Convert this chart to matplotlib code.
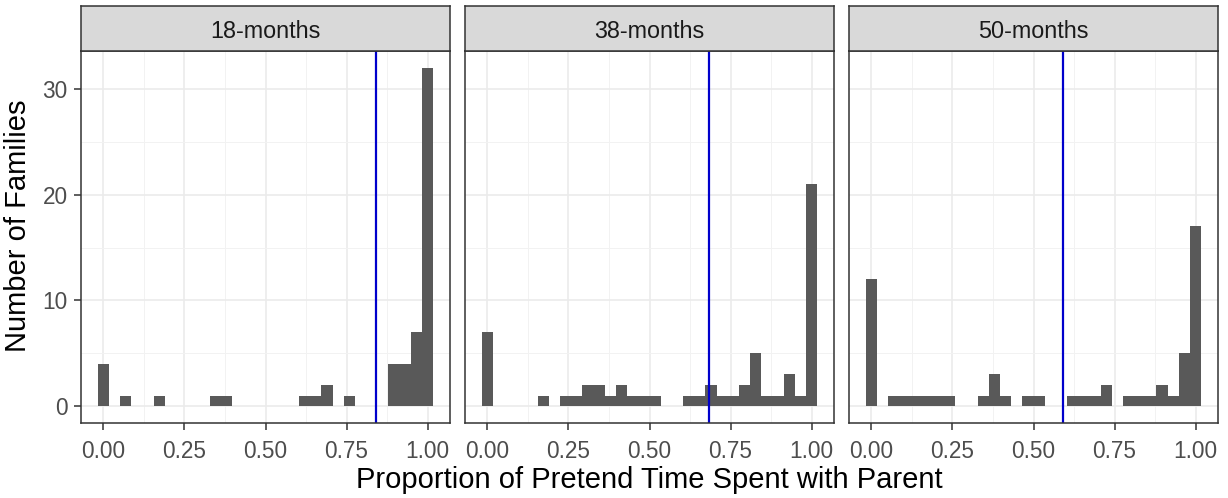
import matplotlib
matplotlib.use('Agg')
from matplotlib import pyplot as plt
import numpy as np

plt.rcParams['font.family'] = ['Liberation Sans', 'DejaVu Sans']

# histogram counts per bin (30 bins, centres at k/29)
panels = ['18-months', '38-months', '50-months']
counts_18 = [4, 0, 1, 0, 0, 1, 0, 0, 0, 0, 1, 1, 0, 0, 0,
             0, 0, 0, 1, 1, 2, 0, 1, 0, 0, 0, 4, 4, 7, 32]
counts_38 = [7, 0, 0, 0, 0, 1, 0, 1, 1, 2, 2, 1, 2, 1, 1,
             1, 0, 0, 1, 1, 2, 1, 1, 2, 5, 1, 1, 3, 1, 21]
counts_50 = [12, 0, 1, 1, 1, 1, 1, 1, 0, 0, 1, 3, 1, 0, 1,
             1, 0, 0, 1, 1, 1, 2, 0, 1, 1, 1, 2, 1, 5, 17]
means = [0.840, 0.683, 0.590]
x_ticks = [0.0, 0.25, 0.5, 0.75, 1.0]
x_ticklabels = ['0.00', '0.25', '0.50', '0.75', '1.00']
y_ticks = [0, 10, 20, 30]

all_counts = [counts_18, counts_38, counts_50]
nbins = 30
binw = 1.0 / (nbins - 1)
centres = np.arange(nbins) * binw

W, H = 1228, 498
fig = plt.figure(figsize=(W / 100, H / 100), dpi=100)

lefts = [81, 465, 849]
pw = 369
ptop, pbot = 51, 423
strip_top = 6

dark = '#333333'
for i, name in enumerate(panels):
    ax = fig.add_axes([lefts[i] / W, 1 - pbot / H, pw / W, (pbot - ptop) / H])
    ax.set_xlim(-0.069, 1.069)
    ax.set_ylim(-1.6, 33.6)
    ax.set_xticks([0.125, 0.375, 0.625, 0.875], minor=True)
    ax.set_yticks([5, 15, 25], minor=True)
    ax.grid(which='major', color='#EBEBEB', linewidth=1.2)
    ax.grid(which='minor', color='#F2F2F2', linewidth=0.7)
    ax.set_axisbelow(True)
    ax.bar(centres, all_counts[i], width=binw, color='#595959', linewidth=0)
    ax.axvline(means[i], color='#0000CC', linewidth=1.6)
    ax.set_xticks(x_ticks)
    ax.set_xticklabels(x_ticklabels)
    ax.set_yticks(y_ticks)
    ax.tick_params(which='major', length=5, width=1.1, color=dark,
                   labelsize=16.3, labelcolor='#4D4D4D')
    ax.tick_params(axis='x', pad=7.5)
    ax.tick_params(axis='y', pad=4.5)
    ax.tick_params(which='minor', length=0)
    if i > 0:
        ax.tick_params(axis='y', left=False, labelleft=False)
    for s in ax.spines.values():
        s.set_color(dark)
        s.set_linewidth(1.1)

    sax = fig.add_axes([lefts[i] / W, 1 - ptop / H, pw / W, (ptop - strip_top) / H])
    sax.set_facecolor('#D9D9D9')
    sax.set_xticks([])
    sax.set_yticks([])
    for s in sax.spines.values():
        s.set_color(dark)
        s.set_linewidth(1.1)
    sax.text(0.5, 0.28, name, ha='center', va='baseline', fontsize=16.8,
             color='#1A1A1A', transform=sax.transAxes)

fig.text(0.5 * (lefts[0] + lefts[2] + pw) / W, 1 - 488 / H,
         'Proportion of Pretend Time Spent with Parent',
         ha='center', va='baseline', fontsize=21)
fig.text(18 / W, 1 - 226 / H, 'Number of Families', rotation=90,
         ha='center', va='center', fontsize=21)

fig.savefig('out.png', dpi=100)
